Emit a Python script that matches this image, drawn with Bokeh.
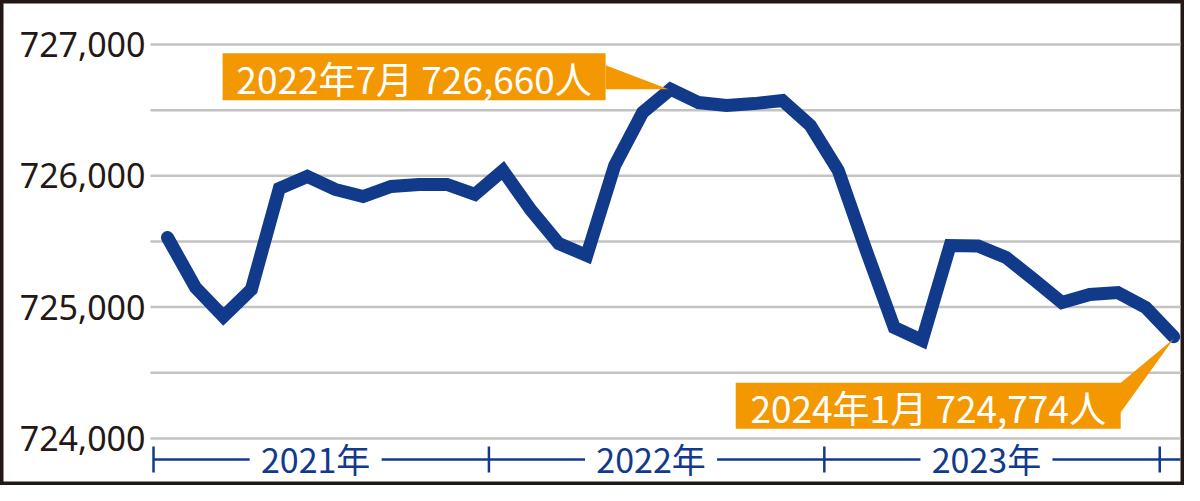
from bokeh.plotting import figure
from bokeh.core.properties import value
from bokeh.embed import file_html
from bokeh.resources import INLINE

# ---------------- data ----------------
# monthly population, index 0 = 2021-01 ... index 36 = 2024-01
months = list(range(37))
population = [
    725530, 725150, 724928, 725134, 725903, 725995, 725896, 725842, 725919, 725934, 725934, 725858,  # 2021
    726040, 725740, 725484, 725393, 726078, 726482, 726660, 726558, 726535, 726550, 726574, 726383,  # 2022
    726040, 725430, 724845, 724746, 725469, 725465, 725378, 725210, 725035, 725096, 725111, 724997,  # 2023
    724774,                                                                                          # 2024-01
]
year_labels = ["2021年", "2022年", "2023年"]
year_boundaries = [-0.5, 11.5, 23.5, 35.5]
y_label_ticks = [724000, 725000, 726000, 727000]
y_label_texts = ["724,000", "725,000", "726,000", "727,000"]
grid_ticks = [724000, 724500, 725000, 725500, 726000, 726500, 727000]
callout_texts = ["2022年7月 726,660人", "2024年1月 724,774人"]
callout_index = [18, 36]

# ---------------- layout constants ----------------
W, H = 1184, 485
X0_PX = 167.0        # pixel of month 0
PPX = 27.95          # pixels per month
Y0_PX = 44.0         # pixel of 727,000
PPY = 0.1313         # pixels per person

BLUE = "#123a8b"
ORANGE = "#f39800"
INK = "#231815"
CJK = value("Noto Sans CJK JP")


def xpx(px):  # absolute pixel -> month coordinate
    return (px - X0_PX) / PPX


def ypx(px):  # absolute pixel -> population coordinate
    return 727000 - (px - Y0_PX) / PPY


def dx(px):
    return px / PPX


def dy(px):  # positive px = downwards on screen
    return -px / PPY


p = figure(width=W, height=H, x_range=(xpx(0), xpx(W)), y_range=(ypx(H), ypx(0)),
           output_backend="svg", toolbar_location=None,
           x_axis_location=None, y_axis_location=None,
           min_border_left=0, min_border_right=0, min_border_top=0, min_border_bottom=0)
p.outline_line_color = INK
p.outline_line_width = 6
p.background_fill_color = "white"
p.border_fill_color = "white"
p.xgrid.visible = False
p.ygrid.visible = False

# horizontal grid lines (only across the plotting area)
n_grid = len(grid_ticks)
p.segment(x0=[xpx(150)] * n_grid, x1=[xpx(1180)] * n_grid, y0=grid_ticks, y1=grid_ticks,
          line_color="#c3c3c3", line_width=2.5)

# y tick labels
p.text(x=[xpx(145)] * len(y_label_ticks), y=y_label_ticks, text=y_label_texts,
       text_font=value("Noto Sans"), text_font_size="34px", text_color=INK,
       text_align="right", text_baseline="middle")

# main line
p.line(months, population, line_color=BLUE, line_width=13,
       line_join="miter", line_cap="round")

# year bracket below the plot
bracket_y = ypx(459)
tick_half = dy(13)
p.segment(x0=year_boundaries, y0=[bracket_y - tick_half] * 4,
          x1=year_boundaries, y1=[bracket_y + tick_half] * 4,
          line_color=BLUE, line_width=2.5)
label_centres = [12 * k + 5.3 for k in range(3)]
gap = dx(66)
seg_x0, seg_x1 = [], []
ends = year_boundaries[1:-1] + [xpx(1180)]
for k, c in enumerate(label_centres):
    seg_x0 += [year_boundaries[k], c + gap]
    seg_x1 += [c - gap, ends[k]]
p.segment(x0=seg_x0, y0=[bracket_y] * len(seg_x0), x1=seg_x1, y1=[bracket_y] * len(seg_x0),
          line_color=BLUE, line_width=2.5)
p.text(x=label_centres, y=[ypx(458)] * 3, text=year_labels, text_font=CJK,
       text_font_size="34px", text_color=BLUE, text_align="center", text_baseline="middle")

# callouts (offsets in px relative to annotated point; y positive = down)
boxes = [(-448, -65, -36, 11), (-438, -53, 46, 92)]
pointers = [[(-65, -24), (-65, 0), (-2, 0)], [(-54, 47), (-54, 77), (0, 2)]]
for txt, idx, (l, r, t, b), tri in zip(callout_texts, callout_index, boxes, pointers):
    px, py = months[idx], population[idx]
    p.quad(left=px + dx(l), right=px + dx(r), top=py + dy(t), bottom=py + dy(b),
           fill_color=ORANGE, line_color=None)
    p.patch([px + dx(a) for a, _ in tri], [py + dy(c) for _, c in tri],
            fill_color=ORANGE, line_color=None)
    p.text(x=[px + dx((l + r) / 2)], y=[py + dy((t + b) / 2 + 1)], text=[txt], text_font=CJK,
           text_font_size="37px", text_color="white", text_align="center", text_baseline="middle")

open("out.html", "w").write(file_html(p, INLINE))
